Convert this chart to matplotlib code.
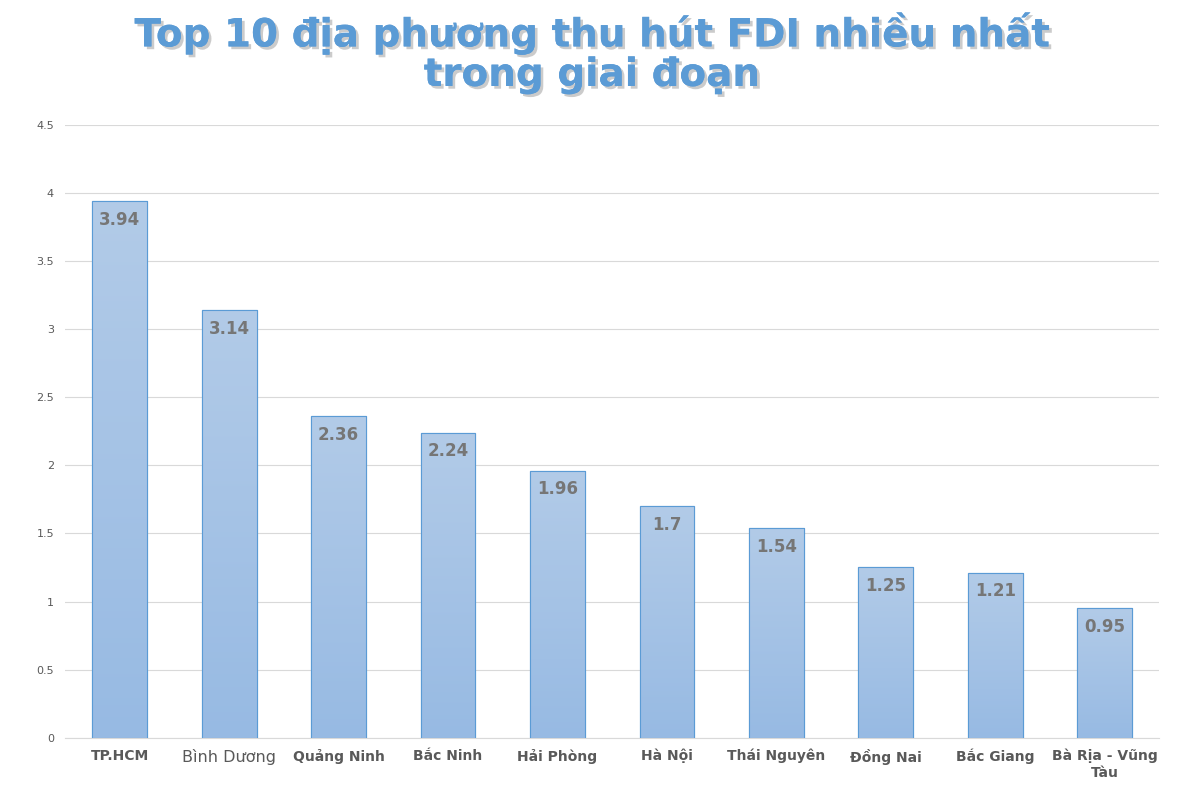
import matplotlib
matplotlib.use("Agg")
import matplotlib.pyplot as plt
import matplotlib.patheffects as pe
import numpy as np

categories = ["TP.HCM", "Bình Dương", "Quảng Ninh", "Bắc Ninh", "Hải Phòng", "Hà Nội",
              "Thái Nguyên", "Đồng Nai", "Bắc Giang", "Bà Rịa - Vũng\nTàu"]
values = [3.94, 3.14, 2.36, 2.24, 1.96, 1.7, 1.54, 1.25, 1.21, 0.95]
labels = ["3.94", "3.14", "2.36", "2.24", "1.96", "1.7", "1.54", "1.25", "1.21", "0.95"]

fig = plt.figure(figsize=(11.83, 7.95), dpi=100)
ax = fig.add_axes([0.055, 0.072, 0.925, 0.771])
x = np.arange(len(values))
bars = ax.bar(x, values, width=0.5, color="#9DC3E6", edgecolor="#5B9BD5", linewidth=0.8, zorder=2)
grad = np.linspace(0, 1, 256).reshape(-1, 1)
from matplotlib.colors import LinearSegmentedColormap
cmap = LinearSegmentedColormap.from_list("g", ["#97BAE3", "#B2CBE8"])
for b in bars:
    x0, w, h = b.get_x(), b.get_width(), b.get_height()
    im = ax.imshow(grad, extent=(x0, x0 + w, 0, h), origin="lower", aspect="auto", cmap=cmap, zorder=2.5)
    im.set_clip_path(b)
    ax.add_patch(plt.Rectangle((x0, 0), w, h, fill=False, edgecolor="#5B9BD5", linewidth=0.8, zorder=3))
for xi, v, t in zip(x, values, labels):
    ax.text(xi, v - 0.07, t, ha="center", va="top", fontsize=12, fontweight="bold", color="#767676", zorder=4)
ax.set_xlim(-0.5, 9.5)
ax.set_ylim(0, 4.5)
ax.set_yticks(np.arange(0, 4.51, 0.5))
ax.set_yticklabels(["0", "0.5", "1", "1.5", "2", "2.5", "3", "3.5", "4", "4.5"], fontsize=8, color="#595959")
ax.set_xticks(x)
ax.set_xticklabels(categories, fontsize=10, fontweight="bold", color="#595959")
ax.get_xticklabels()[1].set_fontweight("normal")
ax.get_xticklabels()[1].set_fontsize(11.5)
ax.grid(axis="y", color="#D9D9D9", linewidth=0.8, zorder=0)
ax.set_axisbelow(True)
for s in ["top", "right", "left"]:
    ax.spines[s].set_visible(False)
ax.spines["bottom"].set_color("#D9D9D9")
ax.tick_params(length=0, pad=8)
fig.text(0.5, 0.985, "Top 10 địa phương thu hút FDI nhiều nhất\ntrong giai đoạn", ha="center", va="top",
         fontsize=28, fontweight="bold", color="#5B9BD5", linespacing=1.05,
         path_effects=[pe.withSimplePatchShadow(offset=(2, -2), shadow_rgbFace="#BFBFBF", alpha=0.8), pe.Normal()])
fig.savefig("out.png", dpi=100)
